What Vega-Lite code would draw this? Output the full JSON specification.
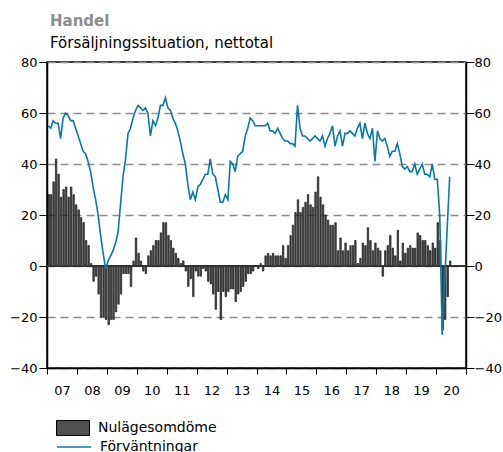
{
  "$schema": "https://vega.github.io/schema/vega-lite/v6.json",
  "width": 419,
  "height": 306,
  "autosize": {"type": "none"},
  "padding": {"left": 47, "top": 62, "right": 37, "bottom": 84},
  "background": "white",
  "config": {
    "font": "DejaVu Sans",
    "view": {"stroke": "black", "strokeWidth": 1.5},
    "axis": {"labelFont": "DejaVu Sans", "labelFontSize": 13, "labelColor": "black", "domainColor": "black", "domainWidth": 1.5, "tickColor": "black", "tickWidth": 1}
  },
  "title": {
    "text": "Handel",
    "subtitle": "Försäljningssituation, nettotal",
    "anchor": "start",
    "frame": "group",
    "font": "DejaVu Sans",
    "fontSize": 15,
    "fontWeight": "bold",
    "color": "#8c8c8c",
    "subtitleFont": "DejaVu Sans",
    "subtitleFontSize": 15,
    "subtitleColor": "black",
    "subtitlePadding": 7,
    "offset": 5,
    "dx": 3
  },
  "data": {"values": [
    {"date":"2007-01","n":28,"f":55},{"date":"2007-02","n":28,"f":54},{"date":"2007-03","n":33,"f":57},{"date":"2007-04","n":42,"f":56},{"date":"2007-05","n":36,"f":56},{"date":"2007-06","n":27,"f":50},{"date":"2007-07","n":30,"f":58},{"date":"2007-08","n":31,"f":60},{"date":"2007-09","n":27,"f":59},{"date":"2007-10","n":31,"f":57},{"date":"2007-11","n":28,"f":57},{"date":"2007-12","n":24,"f":54},
    {"date":"2008-01","n":22,"f":51},{"date":"2008-02","n":19,"f":48},{"date":"2008-03","n":17,"f":45},{"date":"2008-04","n":10,"f":44},{"date":"2008-05","n":8,"f":41},{"date":"2008-06","n":1,"f":37},{"date":"2008-07","n":-6,"f":31},{"date":"2008-08","n":-4,"f":26},{"date":"2008-09","n":-11,"f":20},{"date":"2008-10","n":-20,"f":12},{"date":"2008-11","n":-20,"f":5},{"date":"2008-12","n":-21,"f":-1},
    {"date":"2009-01","n":-23,"f":2},{"date":"2009-02","n":-21,"f":4},{"date":"2009-03","n":-21,"f":6},{"date":"2009-04","n":-18,"f":9},{"date":"2009-05","n":-15,"f":13},{"date":"2009-06","n":-11,"f":24},{"date":"2009-07","n":-3,"f":35},{"date":"2009-08","n":-3,"f":42},{"date":"2009-09","n":-3,"f":52},{"date":"2009-10","n":-8,"f":54},{"date":"2009-11","n":2,"f":58},{"date":"2009-12","n":11,"f":61},
    {"date":"2010-01","n":5,"f":63},{"date":"2010-02","n":2,"f":62},{"date":"2010-03","n":-2,"f":61},{"date":"2010-04","n":-3,"f":62},{"date":"2010-05","n":4,"f":60},{"date":"2010-06","n":6,"f":51},{"date":"2010-07","n":8,"f":57},{"date":"2010-08","n":10,"f":55},{"date":"2010-09","n":10,"f":58},{"date":"2010-10","n":13,"f":63},{"date":"2010-11","n":17,"f":63},{"date":"2010-12","n":17,"f":66},
    {"date":"2011-01","n":12,"f":62},{"date":"2011-02","n":10,"f":61},{"date":"2011-03","n":7,"f":58},{"date":"2011-04","n":5,"f":56},{"date":"2011-05","n":3,"f":53},{"date":"2011-06","n":1,"f":49},{"date":"2011-07","n":2,"f":44},{"date":"2011-08","n":-2,"f":40},{"date":"2011-09","n":-8,"f":32},{"date":"2011-10","n":-5,"f":26},{"date":"2011-11","n":-12,"f":29},{"date":"2011-12","n":-2,"f":26},
    {"date":"2012-01","n":-4,"f":31},{"date":"2012-02","n":-4,"f":32},{"date":"2012-03","n":-1,"f":34},{"date":"2012-04","n":-2,"f":36},{"date":"2012-05","n":-6,"f":36},{"date":"2012-06","n":-7,"f":42},{"date":"2012-07","n":-11,"f":36},{"date":"2012-08","n":-17,"f":35},{"date":"2012-09","n":-10,"f":30},{"date":"2012-10","n":-21,"f":25},{"date":"2012-11","n":-10,"f":25},{"date":"2012-12","n":-12,"f":28},
    {"date":"2013-01","n":-10,"f":26},{"date":"2013-02","n":-9,"f":41},{"date":"2013-03","n":-9,"f":40},{"date":"2013-04","n":-14,"f":37},{"date":"2013-05","n":-11,"f":43},{"date":"2013-06","n":-10,"f":44},{"date":"2013-07","n":-8,"f":45},{"date":"2013-08","n":-6,"f":51},{"date":"2013-09","n":-3,"f":54},{"date":"2013-10","n":-3,"f":58},{"date":"2013-11","n":-2,"f":57},{"date":"2013-12","n":0,"f":55},
    {"date":"2014-01","n":-1,"f":55},{"date":"2014-02","n":1,"f":55},{"date":"2014-03","n":-2,"f":55},{"date":"2014-04","n":4,"f":55},{"date":"2014-05","n":5,"f":56},{"date":"2014-06","n":4,"f":53},{"date":"2014-07","n":5,"f":53},{"date":"2014-08","n":4,"f":52},{"date":"2014-09","n":4,"f":54},{"date":"2014-10","n":4,"f":52},{"date":"2014-11","n":8,"f":50},{"date":"2014-12","n":3,"f":49},
    {"date":"2015-01","n":8,"f":49},{"date":"2015-02","n":12,"f":48},{"date":"2015-03","n":16,"f":48},{"date":"2015-04","n":21,"f":47},{"date":"2015-05","n":26,"f":63},{"date":"2015-06","n":21,"f":54},{"date":"2015-07","n":23,"f":51},{"date":"2015-08","n":25,"f":51},{"date":"2015-09","n":28,"f":50},{"date":"2015-10","n":24,"f":49},{"date":"2015-11","n":23,"f":50},{"date":"2015-12","n":29,"f":51},
    {"date":"2016-01","n":35,"f":50},{"date":"2016-02","n":27,"f":49},{"date":"2016-03","n":24,"f":51},{"date":"2016-04","n":20,"f":47},{"date":"2016-05","n":18,"f":50},{"date":"2016-06","n":16,"f":52},{"date":"2016-07","n":16,"f":55},{"date":"2016-08","n":17,"f":47},{"date":"2016-09","n":6,"f":51},{"date":"2016-10","n":11,"f":53},{"date":"2016-11","n":6,"f":47},{"date":"2016-12","n":9,"f":52},
    {"date":"2017-01","n":6,"f":52},{"date":"2017-02","n":8,"f":53},{"date":"2017-03","n":8,"f":52},{"date":"2017-04","n":10,"f":51},{"date":"2017-05","n":1,"f":54},{"date":"2017-06","n":3,"f":56},{"date":"2017-07","n":9,"f":50},{"date":"2017-08","n":8,"f":56},{"date":"2017-09","n":15,"f":52},{"date":"2017-10","n":10,"f":50},{"date":"2017-11","n":6,"f":54},{"date":"2017-12","n":9,"f":41},
    {"date":"2018-01","n":7,"f":53},{"date":"2018-02","n":6,"f":50},{"date":"2018-03","n":-4,"f":49},{"date":"2018-04","n":6,"f":50},{"date":"2018-05","n":8,"f":47},{"date":"2018-06","n":12,"f":43},{"date":"2018-07","n":7,"f":45},{"date":"2018-08","n":4,"f":45},{"date":"2018-09","n":14,"f":48},{"date":"2018-10","n":2,"f":44},{"date":"2018-11","n":9,"f":39},{"date":"2018-12","n":5,"f":38},
    {"date":"2019-01","n":7,"f":39},{"date":"2019-02","n":8,"f":37},{"date":"2019-03","n":7,"f":37},{"date":"2019-04","n":7,"f":40},{"date":"2019-05","n":13,"f":36},{"date":"2019-06","n":12,"f":38},{"date":"2019-07","n":10,"f":40},{"date":"2019-08","n":10,"f":36},{"date":"2019-09","n":8,"f":36},{"date":"2019-10","n":6,"f":35},{"date":"2019-11","n":9,"f":40},{"date":"2019-12","n":7,"f":34},
    {"date":"2020-01","n":17,"f":34},{"date":"2020-02","n":10,"f":20},{"date":"2020-03","n":-25,"f":-27},{"date":"2020-04","n":-21,"f":-6},{"date":"2020-05","n":-12,"f":15},{"date":"2020-06","n":2,"f":35}
  ]},
  "layer": [
    {
      "mark": {"type": "bar", "stroke": "black", "strokeWidth": 0.6},
      "encoding": {
        "x": {
          "field": "date", "type": "temporal", "timeUnit": "utcyearmonth",
          "scale": {"type": "utc", "nice": false, "domain": [{"year": 2007, "month": 1, "date": 1, "utc": true}, {"year": 2021, "month": 1, "date": 1, "utc": true}]},
          "axis": {
            "title": null, "grid": false, "tickSize": 6, "labelPadding": 10, "labelOffset": 15, "labelFlush": false,
            "values": [{"year":2007,"month":1,"date":1,"utc":true},{"year":2008,"month":1,"date":1,"utc":true},{"year":2009,"month":1,"date":1,"utc":true},{"year":2010,"month":1,"date":1,"utc":true},{"year":2011,"month":1,"date":1,"utc":true},{"year":2012,"month":1,"date":1,"utc":true},{"year":2013,"month":1,"date":1,"utc":true},{"year":2014,"month":1,"date":1,"utc":true},{"year":2015,"month":1,"date":1,"utc":true},{"year":2016,"month":1,"date":1,"utc":true},{"year":2017,"month":1,"date":1,"utc":true},{"year":2018,"month":1,"date":1,"utc":true},{"year":2019,"month":1,"date":1,"utc":true},{"year":2020,"month":1,"date":1,"utc":true},{"year":2021,"month":1,"date":1,"utc":true}],
            "labelExpr": "utcyear(datum.value) > 2020 ? '' : utcFormat(datum.value, '%y')"
          }
        },
        "y": {
          "field": "n", "type": "quantitative",
          "scale": {"domain": [-40, 80], "nice": false, "zero": false},
          "axis": {"orient": "left", "title": null, "values": [-40, -20, 0, 20, 40, 60, 80], "tickSize": 8, "labelPadding": 2, "grid": true, "gridDash": [8, 5], "gridColor": "#8c8c8c", "gridWidth": 1.5}
        },
        "fill": {
          "datum": "Nulägesomdöme", "type": "nominal",
          "scale": {"range": ["#505050"]},
          "legend": {"orient": "none", "legendX": 9, "legendY": 349, "title": null, "padding": 0, "symbolType": "M-1,-0.45H1V0.45H-1Z", "symbolSize": 1089, "symbolStrokeColor": "black", "symbolStrokeWidth": 1, "labelFont": "DejaVu Sans", "labelFontSize": 14, "labelColor": "black", "labelOffset": 8}
        }
      }
    },
    {
      "mark": {"type": "rule", "color": "#333333", "strokeWidth": 1},
      "encoding": {"y": {"datum": 0, "type": "quantitative", "axis": null}}
    },
    {
      "mark": {"type": "line", "strokeWidth": 1.6},
      "encoding": {
        "x": {
          "field": "date", "type": "temporal", "timeUnit": "utcyearmonth", "bandPosition": 0.5,
          "scale": {"type": "utc", "nice": false, "domain": [{"year": 2007, "month": 1, "date": 1, "utc": true}, {"year": 2021, "month": 1, "date": 1, "utc": true}]},
          "axis": {
            "title": null, "grid": false, "tickSize": 6, "labelPadding": 10, "labelOffset": 15, "labelFlush": false,
            "values": [{"year":2007,"month":1,"date":1,"utc":true},{"year":2008,"month":1,"date":1,"utc":true},{"year":2009,"month":1,"date":1,"utc":true},{"year":2010,"month":1,"date":1,"utc":true},{"year":2011,"month":1,"date":1,"utc":true},{"year":2012,"month":1,"date":1,"utc":true},{"year":2013,"month":1,"date":1,"utc":true},{"year":2014,"month":1,"date":1,"utc":true},{"year":2015,"month":1,"date":1,"utc":true},{"year":2016,"month":1,"date":1,"utc":true},{"year":2017,"month":1,"date":1,"utc":true},{"year":2018,"month":1,"date":1,"utc":true},{"year":2019,"month":1,"date":1,"utc":true},{"year":2020,"month":1,"date":1,"utc":true},{"year":2021,"month":1,"date":1,"utc":true}],
            "labelExpr": "utcyear(datum.value) > 2020 ? '' : utcFormat(datum.value, '%y')"
          }
        },
        "y": {
          "field": "f", "type": "quantitative",
          "scale": {"domain": [-40, 80], "nice": false, "zero": false},
          "axis": {"orient": "right", "title": null, "values": [-40, -20, 0, 20, 40, 60, 80], "tickSize": 8, "labelPadding": 0, "grid": false}
        },
        "stroke": {
          "datum": "Förväntningar", "type": "nominal",
          "scale": {"range": ["#0a78a6"]},
          "legend": {"orient": "none", "legendX": 9, "legendY": 367, "title": null, "padding": 0, "symbolType": "stroke", "symbolSize": 1156, "symbolStrokeWidth": 1.6, "labelFont": "DejaVu Sans", "labelFontSize": 14, "labelColor": "black", "labelOffset": 8}
        }
      }
    }
  ],
  "resolve": {"axis": {"y": "independent"}}
}
